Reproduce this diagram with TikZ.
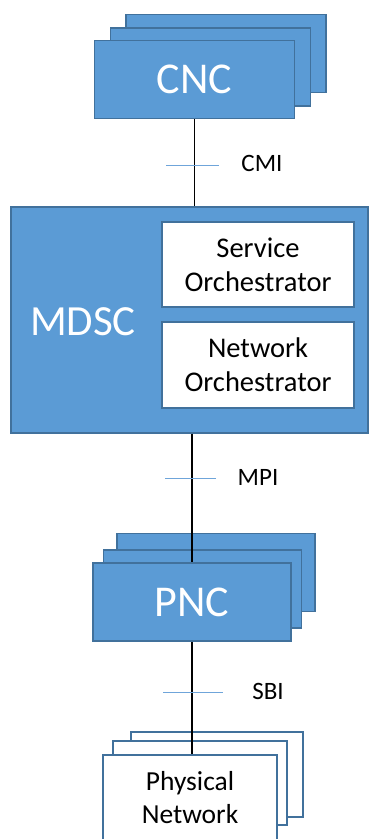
\documentclass[tikz,border=0pt]{standalone}
\usepackage{fontspec}
\setmainfont{Carlito}
\definecolor{boxfill}{HTML}{5B9BD5}
\definecolor{boxline}{HTML}{41719C}
\definecolor{tickline}{HTML}{6FA5DA}
\tikzset{
  bluebox/.style={draw=boxline, line width=1.3pt, fill=boxfill, inner sep=0pt,
    text=white, font=\fontsize{44}{52}\selectfont},
  whitebox/.style={draw=boxline, line width=1.2pt, fill=white, inner sep=0pt,
    text=black, align=center, font=\fontsize{28.5}{34}\selectfont},
  netbox/.style={draw=boxline, line width=1.8pt, fill=white, inner sep=0pt,
    text=black, align=center, font=\fontsize{27.5}{33}\selectfont},
  conn/.style={draw=black, line width=1.6pt},
  tick/.style={draw=tickline, line width=1pt},
  lbl/.style={font=\fontsize{25}{30}\selectfont, text=black, inner sep=0pt},
}
\begin{document}
\begin{tikzpicture}[x=1pt,y=-1pt]
\clip (0,0) rectangle (369,839);
\fill[white] (0,0) rectangle (369,839);

% CNC stack
\node[bluebox, minimum width=200, minimum height=78] (cnc3) at (226,53.5) {};
\node[bluebox, minimum width=200, minimum height=78] (cnc2) at (210.5,67) {};
\node[bluebox, minimum width=200, minimum height=78] (cnc) at (194.5,79.5) {CNC};

% MDSC with its two orchestrators
\node[bluebox, minimum width=357, minimum height=226] (mdsc) at (189.5,320) {};
\node[text=white, font=\fontsize{43}{50}\selectfont, inner sep=0pt] (mdsclbl) at (83,322) {MDSC};
\node[whitebox, minimum width=192, minimum height=85] (so) at (258,264.5) {Service\\Orchestrator};
\node[whitebox, minimum width=192, minimum height=86] (no) at (258,365) {Network\\Orchestrator};

% PNC stack
\node[bluebox, minimum width=198, minimum height=78] (pnc3) at (216,572.5) {};
\node[bluebox, minimum width=198, minimum height=78] (pnc2) at (202.5,589) {};
\node[bluebox, minimum width=198, minimum height=78] (pnc) at (192,602) {PNC};

% Physical network stack
\node[netbox, minimum width=172, minimum height=85] (pn3) at (217,774.5) {};
\node[netbox, minimum width=174, minimum height=84] (pn2) at (200,783) {};
\node[netbox, minimum width=174, minimum height=85] (pn) at (190,797.5) {};
\node[text=black, font=\fontsize{27.5}{33}\selectfont, align=center, inner sep=0pt] (pnlbl) at (190,798) {Physical\\Network};

% interfaces
\draw[conn] (cnc.south) -- (cnc.south |- mdsc.north);
\draw[conn] (mdsc.south -| pnc.north) -- (pnc.north);
\draw[conn] (pnc.south) -- (pnc.south |- pn.north);

\coordinate (cmia) at (166,165); \coordinate (cmib) at (219,165);
\draw[tick] (cmia) -- (cmib);
\node[lbl] (cmi) at (262,163) {CMI};

\coordinate (mpia) at (165,478); \coordinate (mpib) at (216,478);
\draw[tick] (mpia) -- (mpib);
\node[lbl] (mpi) at (258,477) {MPI};

\coordinate (sbia) at (163,692); \coordinate (sbib) at (223,692);
\draw[tick] (sbia) -- (sbib);
\node[lbl] (sbi) at (268,691) {SBI};
\end{tikzpicture}
\end{document}
